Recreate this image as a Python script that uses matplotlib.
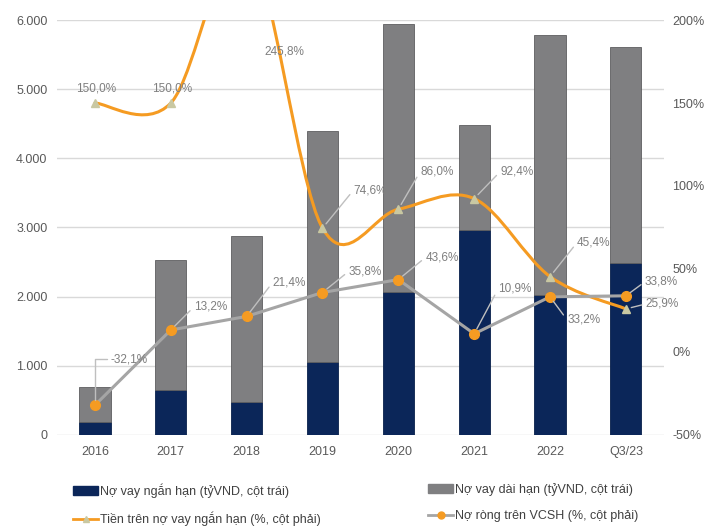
import numpy as np
import matplotlib
matplotlib.use("Agg")
import matplotlib.pyplot as plt
from matplotlib.path import Path
from matplotlib.patches import PathPatch, Patch
from matplotlib.lines import Line2D
from matplotlib.ticker import FuncFormatter, MultipleLocator

plt.rcParams['font.family'] = ['Liberation Sans', 'DejaVu Sans']

# data (tỷ VND and %)
periods = ["2016", "2017", "2018", "2019", "2020", "2021", "2022", "Q3/23"]
short_debt = [180, 650, 470, 1060, 2060, 2960, 2030, 2480]
long_debt = [510, 1880, 2400, 3340, 3890, 1520, 3750, 3130]
cash_to_short = [150.0, 150.0, 245.8, 74.6, 86.0, 92.4, 45.4, 25.9]
net_debt_equity = [-32.1, 13.2, 21.4, 35.8, 43.6, 10.9, 33.2, 33.8]

NAVY = "#0b2659"
GRAY_BAR = "#7f7f81"
ORANGE = "#f59b22"
GRAY_LINE = "#a5a5a5"
TRI = "#c9c8a2"
LABEL = "#7f7f7f"
TICK = "#595959"

fig = plt.figure(figsize=(7.13, 5.29), dpi=100)
ax = fig.add_axes([0.080, 0.178, 0.851, 0.784])
ax2 = ax.twinx()

x = np.arange(len(periods))
w = 0.41
ax.bar(x, short_debt, w, color=NAVY, edgecolor="#08204b", lw=0.6, zorder=2)
ax.bar(x, long_debt, w, bottom=short_debt, color=GRAY_BAR,
       edgecolor="#5e5e60", lw=0.6, zorder=2)

ax.set_xlim(-0.5, len(periods) - 0.5)
ax.set_ylim(0, 6000)
ax.yaxis.set_major_locator(MultipleLocator(1000))
ax.yaxis.set_major_formatter(FuncFormatter(lambda v, p: f"{v:,.0f}".replace(",", ".")))
ax.set_xticks(x)
ax.set_xticklabels(periods)
ax.grid(axis="y", color="#d9d9d9", lw=1)
ax.set_axisbelow(True)

ax2.set_ylim(-50, 200)
ax2.yaxis.set_major_locator(MultipleLocator(50))
ax2.yaxis.set_major_formatter(FuncFormatter(lambda v, p: f"{v:.0f}%"))

for a in (ax, ax2):
    for s in a.spines.values():
        s.set_visible(False)
    a.tick_params(length=0, labelsize=9, colors=TICK)
ax.tick_params(axis="y", pad=7)
ax.tick_params(axis="x", pad=8)
ax2.tick_params(axis="y", pad=6)

# smoothed orange line (cubic bezier through the points)
pts = np.column_stack([x, cash_to_short]).astype(float)
n = len(pts)
verts = [pts[0]]
codes = [Path.MOVETO]
for i in range(n - 1):
    p_prev, p0, p1 = pts[max(i - 1, 0)], pts[i], pts[i + 1]
    p_next = pts[min(i + 2, n - 1)]
    verts += [p0 + (p1 - p_prev) / 6, p1 - (p_next - p0) / 6, p1]
    codes += [Path.CURVE4] * 3
ax2.add_patch(PathPatch(Path(verts, codes), fill=False, edgecolor=ORANGE,
                        lw=2.2, zorder=3, capstyle="round"))
ax2.plot(x, cash_to_short, ls="none", marker="^", ms=6, color=TRI, zorder=4)

ax2.plot(x, net_debt_equity, color=GRAY_LINE, lw=2.2, marker="o", ms=7,
         mfc=ORANGE, mec=ORANGE, zorder=4)


def pct(v):
    return f"{v:.1f}%".replace(".", ",")


def label(xi, v, dx, dy, leader=True, ha="left", conn="arc3"):
    ax2.annotate(pct(v), (xi, v), xytext=(dx, dy), textcoords="offset pixels",
                 ha=ha, va="center", fontsize=8.5, color=LABEL, zorder=6,
                 arrowprops=dict(arrowstyle="-", color="#bfbfbf", lw=1,
                                 shrinkA=1, shrinkB=4, relpos=(0, 0.5),
                                 connectionstyle=conn)
                 if leader else None)


# offsets of the value labels, in pixels
cash_offsets = [(1, 15, False), (1, 15, False), None, (31, 38, True),
                (22, 38, True), (26, 27, True), (27, 34, True), (20, 5, True)]
debt_offsets = [(16, 46), (23, 23), (26, 34), (26, 21), (27, 22),
                (24, 45), (17, -23), (19, 14)]

for i, v in enumerate(cash_to_short):
    off = cash_offsets[i]
    if off is None:
        # value runs above the axis ceiling; label sits by the top edge
        ax2.text(i + 0.24, 181, pct(v), ha="left", va="center",
                 fontsize=8.5, color=LABEL, zorder=6)
        continue
    dx, dy, lead = off
    label(i, v, dx, dy, leader=lead, ha="left" if lead else "center")

for i, v in enumerate(net_debt_equity):
    dx, dy = debt_offsets[i]
    conn = "angle,angleA=0,angleB=90,rad=0" if i == 0 else "arc3"
    label(i, v, dx, dy, conn=conn)

# legends
h_short = Patch(facecolor=NAVY, edgecolor=NAVY)
h_long = Patch(facecolor=GRAY_BAR, edgecolor=GRAY_BAR)
h_cash = Line2D([], [], color=ORANGE, lw=2, marker="^", ms=5, mfc=TRI, mec=TRI)
h_debt = Line2D([], [], color=GRAY_LINE, lw=2, marker="o", ms=5, mfc=ORANGE, mec=ORANGE)

leg_kw = dict(frameon=False, fontsize=9, handlelength=2.0, handletextpad=0.15,
              labelspacing=1.15, borderpad=0, borderaxespad=0, loc="upper left",
              labelcolor="#404040")
fig.legend([h_short, h_cash],
           ["Nợ vay ngắn hạn (tỷVND, cột trái)", "Tiền trên nợ vay ngắn hạn (%, cột phải)"],
           bbox_to_anchor=(73 / 713, 1 - 483 / 529), **leg_kw)
fig.legend([h_long, h_debt],
           ["Nợ vay dài hạn (tỷVND, cột trái)", "Nợ ròng trên VCSH (%, cột phải)"],
           bbox_to_anchor=(428 / 713, 1 - 483 / 529), **leg_kw)

fig.savefig("out.png", dpi=100)
